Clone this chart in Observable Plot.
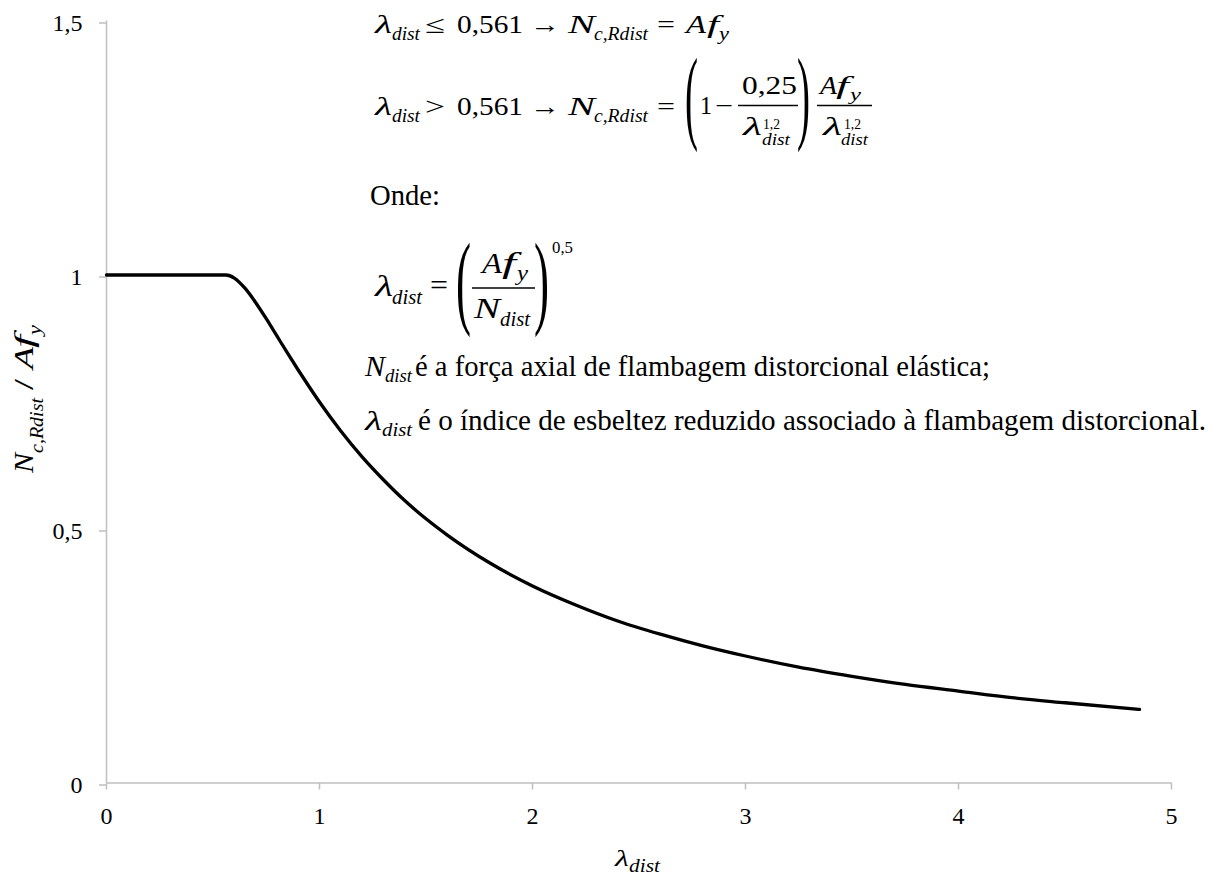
<!DOCTYPE html>
<html>
<head>
<meta charset="utf-8">
<script src="https://cdn.jsdelivr.net/npm/d3@7"></script>
<script src="https://cdn.jsdelivr.net/npm/@observablehq/plot@0.6"></script>
<style>
  html, body { margin: 0; padding: 0; background: #fff; }
  #chart { width: 1219px; height: 876px; }
</style>
</head>
<body>
<div id="chart"></div>
<script>
// Slenderness (λ_dist) and resistance ratio N_c,Rdist / Af_y
const lambdaDist = [0, 0.561, 0.6, 0.65, 0.7, 0.75, 0.8, 0.85, 0.9, 0.95, 1.0, 1.1, 1.2, 1.3, 1.4, 1.5, 1.6, 1.8, 2.0, 2.2, 2.4, 2.6, 2.8, 3.0, 3.25, 3.5, 3.75, 4.0, 4.25, 4.5, 4.85];
const ratio = [1, 1, 0.994, 0.974, 0.946, 0.914, 0.880, 0.846, 0.813, 0.781, 0.750, 0.693, 0.642, 0.597, 0.556, 0.520, 0.488, 0.433, 0.388, 0.351, 0.319, 0.293, 0.270, 0.250, 0.228, 0.210, 0.194, 0.181, 0.168, 0.158, 0.145];
const xTicks = [0, 1, 2, 3, 4, 5];
const yTicks = [0, 0.5, 1, 1.5];

const data = lambdaDist.map((x, i) => ({x, y: ratio[i]}));
const fmt = d => String(d).replace(".", ",");
const axisGray = "#bfbfbf";
const SERIF = "Liberation Serif, Tinos, DejaVu Serif, serif";

const svg = Plot.plot({
  width: 1219,
  height: 876,
  marginLeft: 106,
  marginRight: 48,
  marginTop: 20.5,
  marginBottom: 93.5,
  x: {domain: [0, 5]},
  y: {domain: [0, 1.5]},
  marks: [
    Plot.ruleY([0], {stroke: axisGray, strokeWidth: 1.5}),
    Plot.ruleX([0], {stroke: axisGray, strokeWidth: 1.5}),
    Plot.axisX({ticks: xTicks, tickFormat: fmt, tickSize: 7, tickPadding: 17, stroke: axisGray, strokeWidth: 1.5, fill: "#000", fontSize: 24, label: null}),
    Plot.axisY({ticks: yTicks, tickFormat: fmt, tickSize: 7, tickPadding: 17, stroke: axisGray, strokeWidth: 1.5, fill: "#000", fontSize: 24, label: null, dy: 2}),
    Plot.line(data, {x: "x", y: "y", stroke: "#000", strokeWidth: 3.3, curve: "monotone-x"})
  ]
});
d3.select(svg).attr("font-family", SERIF).style("background", "#fff");
d3.select(svg).selectAll("g").attr("font-family", SERIF);
d3.select(svg).selectAll("text").attr("font-family", SERIF);
document.getElementById("chart").appendChild(svg);

// ---- annotations (math text) ----
const g = d3.select(svg).append("g").attr("fill", "#000").attr("font-family", SERIF);
function t(parent, x, y, s, o = {}) {
  const e = parent.append("text").attr("x", x).attr("y", y).attr("font-size", o.size || 25)
    .attr("text-anchor", "start").attr("font-family", SERIF).text(s);
  if (o.it) e.attr("font-style", "italic");
  if (o.len) e.attr("textLength", o.len).attr("lengthAdjust", "spacingAndGlyphs");
  return e;
}
function bar(x1, x2, y) {
  g.append("line").attr("x1", x1).attr("x2", x2).attr("y1", y).attr("y2", y).attr("stroke", "#000").attr("stroke-width", 1.3);
}

// Line 1
t(g, 375, 33, "λ", {it: 1, size: 25, len: 17});
t(g, 392, 40, "dist", {it: 1, size: 18, len: 28});
t(g, 425, 33, "≤", {size: 25, len: 20});
t(g, 457, 33, "0,561", {size: 25, len: 66});
t(g, 530, 33, "→", {size: 25, len: 30});
t(g, 568, 33, "N", {it: 1, size: 25, len: 27});
t(g, 594, 40, "c,Rdist", {it: 1, size: 18, len: 54});
t(g, 657, 33, "=", {size: 25, len: 18});
t(g, 686, 33, "A", {it: 1, size: 25, len: 20});
t(g, 707, 33, "f", {it: 1, size: 25, len: 12});
t(g, 719, 40, "y", {it: 1, size: 18, len: 10});

// Line 2
t(g, 375, 115, "λ", {it: 1, size: 25, len: 17});
t(g, 392, 122, "dist", {it: 1, size: 18, len: 28});
t(g, 425, 115, ">", {size: 25, len: 20});
t(g, 457, 115, "0,561", {size: 25, len: 66});
t(g, 530, 115, "→", {size: 25, len: 30});
t(g, 568, 115, "N", {it: 1, size: 25, len: 27});
t(g, 594, 122, "c,Rdist", {it: 1, size: 18, len: 54});
t(g, 657, 115, "=", {size: 25, len: 18});
t(g, 685, 130, "(", {size: 103, len: 13});
t(g, 700, 114, "1", {size: 25, len: 12});
t(g, 715, 114, "−", {size: 25, len: 18});
t(g, 742, 94, "0,25", {size: 25, len: 55});
bar(738, 798, 105.5);
t(g, 743, 135, "λ", {it: 1, size: 25, len: 19});
t(g, 763, 129, "1,2", {size: 15, len: 17});
t(g, 762, 145, "dist", {it: 1, size: 16, len: 28});
t(g, 797, 130, ")", {size: 103, len: 13});
t(g, 820, 94, "A", {it: 1, size: 25, len: 17});
t(g, 836, 94, "f", {it: 1, size: 25, len: 13});
t(g, 850, 100, "y", {it: 1, size: 17, len: 11});
bar(817, 872, 105.5);
t(g, 823, 135, "λ", {it: 1, size: 25, len: 19});
t(g, 844, 129, "1,2", {size: 15, len: 17});
t(g, 841, 145, "dist", {it: 1, size: 16, len: 27});

// Onde:
t(g, 370, 205, "Onde:", {size: 30, len: 70});

// λ_dist = (Af_y / N_dist)^0,5
t(g, 375, 296, "λ", {it: 1, size: 29, len: 18});
t(g, 392, 304, "dist", {it: 1, size: 20, len: 30});
t(g, 430, 295, "=", {size: 29, len: 18});
t(g, 456, 315, "(", {size: 103, len: 15});
t(g, 482, 273, "A", {it: 1, size: 30, len: 20});
t(g, 502, 273, "f", {it: 1, size: 30, len: 14});
t(g, 517, 280, "y", {it: 1, size: 20, len: 11});
bar(472, 535, 288);
t(g, 474, 318, "N", {it: 1, size: 30, len: 26});
t(g, 500, 326, "dist", {it: 1, size: 20, len: 30});
t(g, 534, 315, ")", {size: 103, len: 15});
t(g, 552, 253, "0,5", {size: 17, len: 21});

// Definitions
t(g, 365, 376, "N", {it: 1, size: 29, len: 20});
t(g, 385, 382, "dist", {it: 1, size: 18, len: 27});
t(g, 415, 376, "é a força axial de flambagem distorcional elástica;", {size: 29, len: 575});
t(g, 365, 430, "λ", {it: 1, size: 27, len: 17});
t(g, 382, 436, "dist", {it: 1, size: 18, len: 30});
t(g, 418, 430, "é o índice de esbeltez reduzido associado à flambagem distorcional.", {size: 29, len: 788});

// X axis title
t(g, 615, 866, "λ", {it: 1, size: 24, len: 14});
t(g, 629, 872, "dist", {it: 1, size: 19, len: 31});

// Y axis title (rotated)
const gy = g.append("g").attr("transform", "translate(33,473) rotate(-90)");
t(gy, 0, 0, "N", {it: 1, size: 27, len: 20});
t(gy, 20, 10, "c,Rdist", {it: 1, size: 19, len: 55});
t(gy, 83, 0, "/", {size: 27, len: 11});
t(gy, 104, 0, "A", {it: 1, size: 27, len: 22});
t(gy, 125, 0, "f", {it: 1, size: 27, len: 13});
t(gy, 138, 8, "y", {it: 1, size: 19, len: 10});
</script>
</body>
</html>
